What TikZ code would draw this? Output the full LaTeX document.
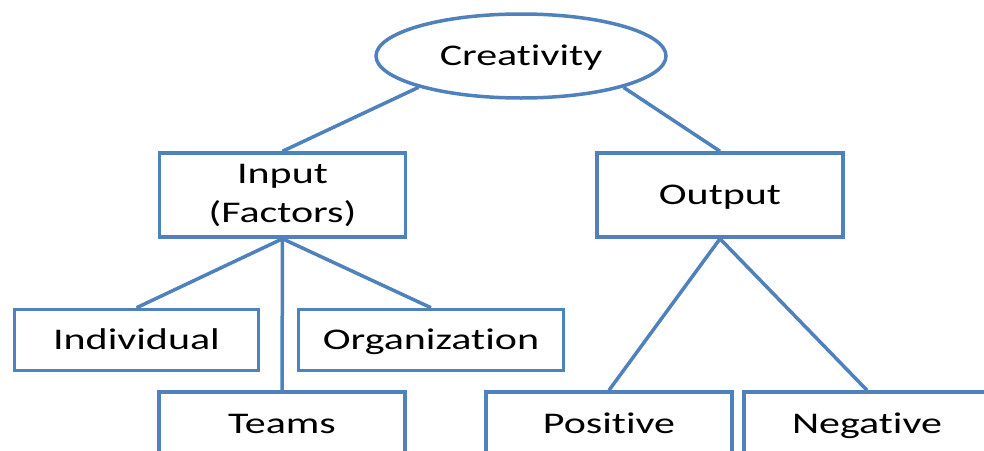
\documentclass[tikz,border=0pt]{standalone}
\usepackage{fontspec}
\setmainfont[FakeStretch=1.4,RawFeature={-liga;-dlig;-clig}]{Carlito}
\usetikzlibrary{shapes.geometric}
\definecolor{linkblue}{HTML}{4F81BD}
\begin{document}
\begin{tikzpicture}[x=1pt,y=-1pt,
  every node/.style={font=\fontsize{30}{39}\selectfont, text=black, align=center, inner sep=0pt},
  oneline/.style={text height=19.3pt, text depth=0pt},
  box/.style={draw=linkblue, line width=3.5pt, rectangle, minimum width=246pt},
  link/.style={draw=linkblue, line width=3.5pt}]
\useasboundingbox (0,0) rectangle (984,450);
\clip (0,0) rectangle (984,450);
% root
\node[oneline, draw=linkblue, line width=3.5pt, ellipse, minimum width=290pt, minimum height=84pt] (cr) at (521,56) {Creativity};
% second level
\node[box, minimum height=84pt] (in) at (282.5,195) {Input\\(Factors)};
\node[box, oneline, minimum height=84pt] (out) at (720,195) {Output};
% input factors
\node[box, oneline, minimum width=244pt, minimum height=61pt] (ind) at (136.5,340) {Individual};
\node[box, oneline, minimum width=265pt, minimum height=61pt] (org) at (431,340) {Organization};
\node[box, oneline, minimum height=64pt] (tm) at (282,424) {Teams};
% outputs
\node[box, oneline, minimum height=64pt] (pos) at (609,424) {Positive};
\node[box, oneline, minimum height=64pt] (neg) at (867,424) {Negative};
% connectors
\draw[link] (cr.197) -- (in.north);
\draw[link] (cr.343) -- (out.north);
\draw[link] (in.south) -- (ind.north);
\draw[link] (in.south) -- (tm.north);
\draw[link] (in.south) -- (org.north);
\draw[link] (out.south) -- (pos.north);
\draw[link] (out.south) -- (neg.north);
\end{tikzpicture}
\end{document}
